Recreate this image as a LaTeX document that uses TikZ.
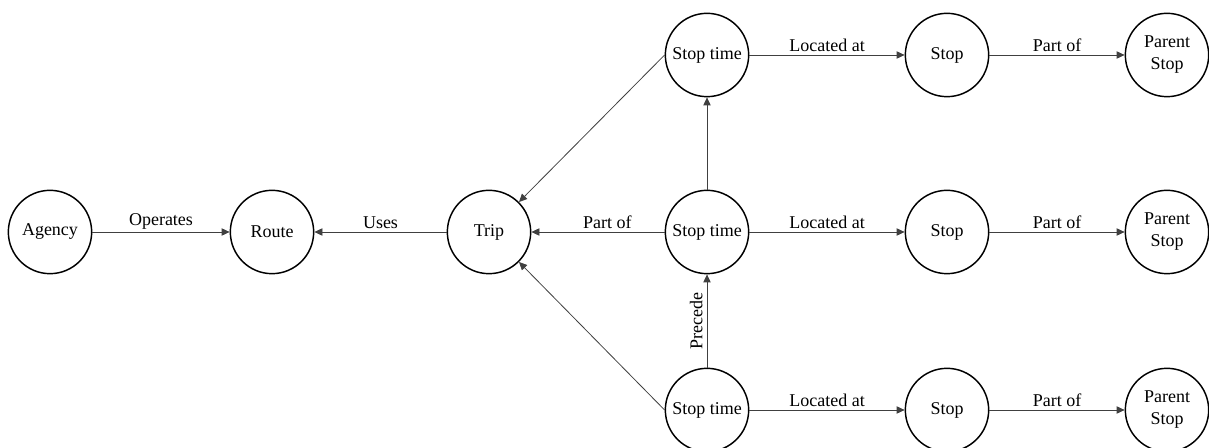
\documentclass[tikz,border=0pt]{standalone}
\usepackage{fontspec}
\setmainfont{Liberation Serif}
\usetikzlibrary{arrows.meta}
\begin{document}
\begin{tikzpicture}[x=0.75pt,y=-0.75pt,
  entity/.style={circle,draw=black,line width=1.1pt,minimum size=62.5pt,inner sep=0pt,
    align=center,font=\fontsize{13.5}{14.5}\selectfont},
  rel/.style={draw=black!75,line width=0.6pt,-{Triangle[length=6pt,width=5.5pt]}},
  lbl/.style={font=\fontsize{13.5}{14.5}\selectfont,inner sep=2pt}]
\useasboundingbox (0,0) rectangle (1209,448);

% entities
\node[entity] (agency) at (50,232) {Agency};
\node[entity] (route) at (272,232) {Route};
\node[entity] (trip) at (489,232) {Trip};
\node[entity] (st1) at (707,55) {Stop time};
\node[entity] (st2) at (707,232) {Stop time};
\node[entity] (st3) at (707,410) {Stop time};
\node[entity] (s1) at (947,55) {Stop};
\node[entity] (s2) at (947,232) {Stop};
\node[entity] (s3) at (947,410) {Stop};
\node[entity] (p1) at (1167,55) {Parent\\[2pt]Stop};
\node[entity] (p2) at (1167,232) {Parent\\[2pt]Stop};
\node[entity] (p3) at (1167,410) {Parent\\[2pt]Stop};

% relations
\draw[rel] (agency) -- node[lbl,above] {Operates} (route);
\draw[rel] (trip) -- node[lbl,above] {Uses} (route);
\draw[rel] (st2) -- node[lbl,above,pos=0.43] {Part of} (trip);
\draw[rel] (st1.west) -- (trip.45);
\draw[rel] (st3.west) -- (trip.-45);
\draw[rel] (st2) -- (st1);
\draw[rel] (st3) -- node[lbl,midway,rotate=90,anchor=south,inner sep=3pt] {Precede} (st2);
\foreach \i in {1,2,3}{
  \draw[rel] (st\i) -- node[lbl,above] {Located at} (s\i);
  \draw[rel] (s\i) -- node[lbl,above] {Part of} (p\i);
}
\end{tikzpicture}
\end{document}
